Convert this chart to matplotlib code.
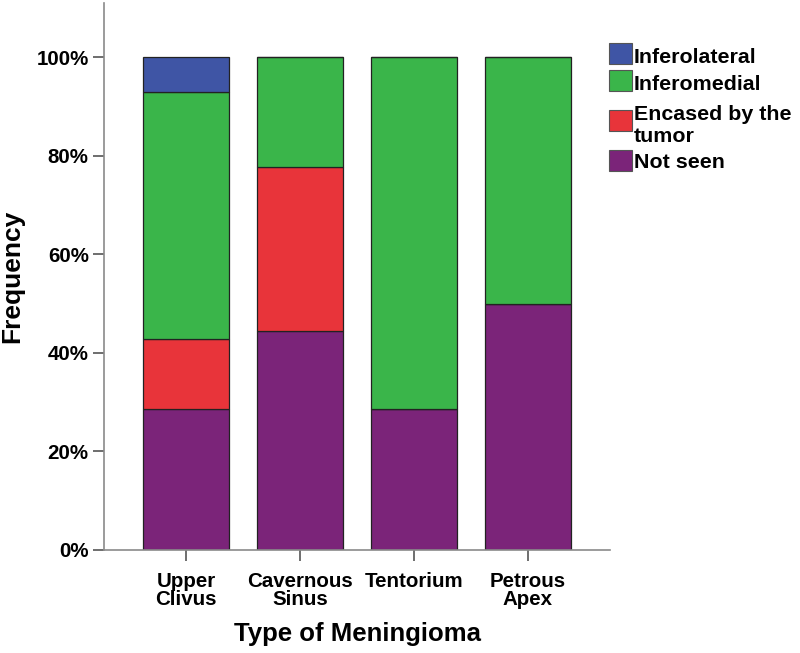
import matplotlib
matplotlib.use("Agg")
import matplotlib.pyplot as plt
import numpy as np
from matplotlib.patches import Rectangle
from matplotlib.ticker import PercentFormatter

plt.rcParams['font.family'] = ['Liberation Sans', 'DejaVu Sans']
plt.rcParams['font.weight'] = 'bold'

# meningioma types (x axis)
types = ["Upper\nClivus", "Cavernous\nSinus", "Tentorium", "Petrous\nApex"]

# fractions per category, stacked bottom -> top
not_seen = [0.286, 0.444, 0.286, 0.50]
encased = [0.143, 0.334, 0.0, 0.0]
inferomedial = [0.500, 0.222, 0.714, 0.50]
inferolateral = [0.071, 0.0, 0.0, 0.0]

names = ["Not seen", "Encased by the\ntumor", "Inferomedial", "Inferolateral"]
colors = ["#7B2479", "#E8343A", "#3AB54A", "#3F55A5"]
series = [not_seen, encased, inferomedial, inferolateral]

W, H = 800, 653
fig = plt.figure(figsize=(8, 6.53), dpi=100)
ax = fig.add_axes([0.13, 0.158, 0.6325, 0.837])

x = np.arange(len(types))
bottom = np.zeros(len(types))
for vals, col in zip(series, colors):
    vals = np.array(vals)
    ax.bar(x, vals, width=0.75, bottom=bottom, color=col,
           edgecolor="#222222", linewidth=0.9)
    bottom += vals

ax.set_xlim(-0.72, 3.72)
ax.set_ylim(0, 1.11)
ax.set_yticks([0, 0.2, 0.4, 0.6, 0.8, 1.0])
ax.yaxis.set_major_formatter(PercentFormatter(1.0, decimals=0))
ax.set_xticks(x)
ax.set_xticklabels(types, fontsize=14.8, fontweight='bold', linespacing=0.95)
for t in ax.get_yticklabels():
    t.set_fontsize(14.8)
    t.set_fontweight('bold')

for s in ["top", "right"]:
    ax.spines[s].set_visible(False)
for s in ["left", "bottom"]:
    ax.spines[s].set_color("#8a8a8a")
    ax.spines[s].set_linewidth(1.2)
ax.tick_params(axis="both", colors="#555555", length=8, width=1.2,
               labelcolor="black")
ax.tick_params(axis="x", pad=8)
ax.tick_params(axis="y", pad=3)

ax.set_xlabel("Type of Meningioma", fontsize=18.5, fontweight='bold', labelpad=9)
ax.set_ylabel("Frequency", fontsize=19, fontweight='bold', labelpad=9)

# legend drawn by hand (handle sits next to first text line, like SPSS)
leg_names = names[::-1]
leg_colors = colors[::-1]
box_top = [43, 70, 110, 150]    # pixel rows of handle tops
base_y = [63, 90, 120, 168]     # pixel rows of first line baseline
for nm, col, bt, by in zip(leg_names, leg_colors, box_top, base_y):
    fig.patches.append(Rectangle((609 / W, 1 - (bt + 21) / H), 23 / W, 21 / H,
                                 transform=fig.transFigure, facecolor=col,
                                 edgecolor="#555555", linewidth=0.8))
    for i, line in enumerate(nm.split("\n")):
        fig.text(634 / W, 1 - (by + 22 * i) / H, line, fontsize=15.4,
                 fontweight='bold', va="baseline", ha="left")

fig.savefig("out.png", dpi=100)
